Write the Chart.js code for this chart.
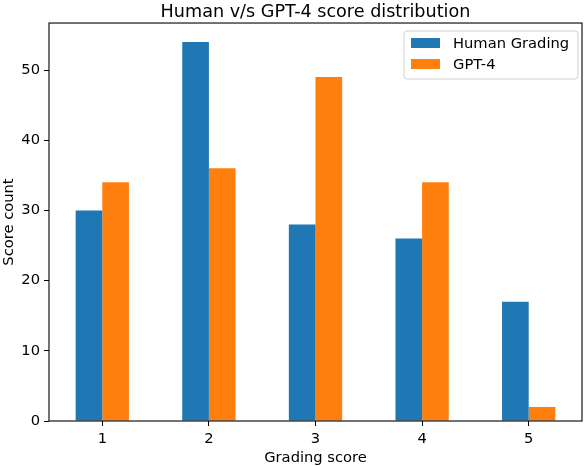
<!DOCTYPE html>
<html lang="en">
<head>
    <meta charset="UTF-8">
    <title>Human v/s GPT-4 score distribution</title>
    <script src="https://cdn.jsdelivr.net/npm/chart.js"></script>
    <style>
        body {
            margin: 0;
            background: #ffffff;
        }
        #chart {
            display: block;
        }
    </style>
</head>
<body>

<canvas id="chart" width="586" height="466"></canvas>

<script>
    // Grading scores on the x axis
    const scores = ['1', '2', '3', '4', '5'];

    // How many answers got each score
    const humanCounts = [30, 54, 28, 26, 17];
    const gptCounts = [34, 36, 49, 34, 2];

    const yTicks = [0, 10, 20, 30, 40, 50];

    Chart.defaults.font.family = 'DejaVu Sans';
    Chart.defaults.font.size = 14.7;
    Chart.defaults.color = '#000';

    // matplotlib style: box round the axes and a framed legend in the corner
    const framePlugin = {
        id: 'frame',
        afterDraw(chart) {
            const ctx = chart.ctx;
            const a = chart.chartArea;
            ctx.save();
            ctx.strokeStyle = '#000';
            ctx.lineWidth = 1.1;
            ctx.strokeRect(a.left, a.top, a.right - a.left, a.bottom - a.top);

            // legend box
            const x = a.right - 178, y = a.top + 8, w = 174, h = 48;
            ctx.beginPath();
            ctx.roundRect(x, y, w, h, 3);
            ctx.fillStyle = 'rgba(255,255,255,0.8)';
            ctx.fill();
            ctx.strokeStyle = '#d0d0d0';
            ctx.lineWidth = 1;
            ctx.stroke();

            ctx.font = '14.7px "DejaVu Sans"';
            ctx.textBaseline = 'middle';
            chart.data.datasets.forEach((ds, i) => {
                const cy = y + 12 + i * 21;
                ctx.fillStyle = ds.backgroundColor;
                ctx.fillRect(x + 7, cy - 5, 29, 10);
                ctx.fillStyle = '#000';
                ctx.fillText(ds.label, x + 49, cy + 1);
            });
            ctx.restore();
        }
    };

    new Chart(document.getElementById('chart'), {
        type: 'bar',
        data: {
            labels: scores,
            datasets: [
                { label: 'Human Grading', data: humanCounts, backgroundColor: '#1f77b4' },
                { label: 'GPT-4', data: gptCounts, backgroundColor: '#ff7f0e' }
            ]
        },
        options: {
            responsive: false,
            animation: false,
            datasets: {
                bar: {
                    categoryPercentage: 0.5,
                    barPercentage: 1.0,
                    borderWidth: 0
                }
            },
            layout: {
                padding: { left: 0, right: 4, top: 0, bottom: 0 }
            },
            plugins: {
                legend: { display: false },
                tooltip: { enabled: false },
                title: {
                    display: true,
                    fullSize: false,
                    text: 'Human v/s GPT-4 score distribution',
                    font: { size: 17.6, weight: 'normal' },
                    color: '#000',
                    padding: { top: 1.5, bottom: 0.4 }
                }
            },
            scales: {
                x: {
                    offset: true,
                    grid: {
                        offset: false,
                        drawOnChartArea: false,
                        drawTicks: true,
                        tickLength: 5,
                        color: '#000'
                    },
                    border: { display: false },
                    ticks: { padding: 4, maxRotation: 0 },
                    title: {
                        display: true,
                        text: 'Grading score',
                        font: { lineHeight: 1.0 },
                        padding: { top: 0, bottom: 0 }
                    },
                    afterFit(scale) { scale.height = 45; }
                },
                y: {
                    min: 0,
                    max: 56.7,
                    afterBuildTicks(scale) {
                        scale.ticks = yTicks.map(v => ({ value: v }));
                    },
                    grid: {
                        drawOnChartArea: false,
                        drawTicks: true,
                        tickLength: 5,
                        color: '#000'
                    },
                    border: { display: false },
                    ticks: { padding: 4 },
                    title: {
                        display: true,
                        text: 'Score count',
                        padding: { top: 0, bottom: 0 }
                    },
                    afterFit(scale) { scale.width = 49; }
                }
            }
        },
        plugins: [framePlugin]
    });
</script>

</body>
</html>
